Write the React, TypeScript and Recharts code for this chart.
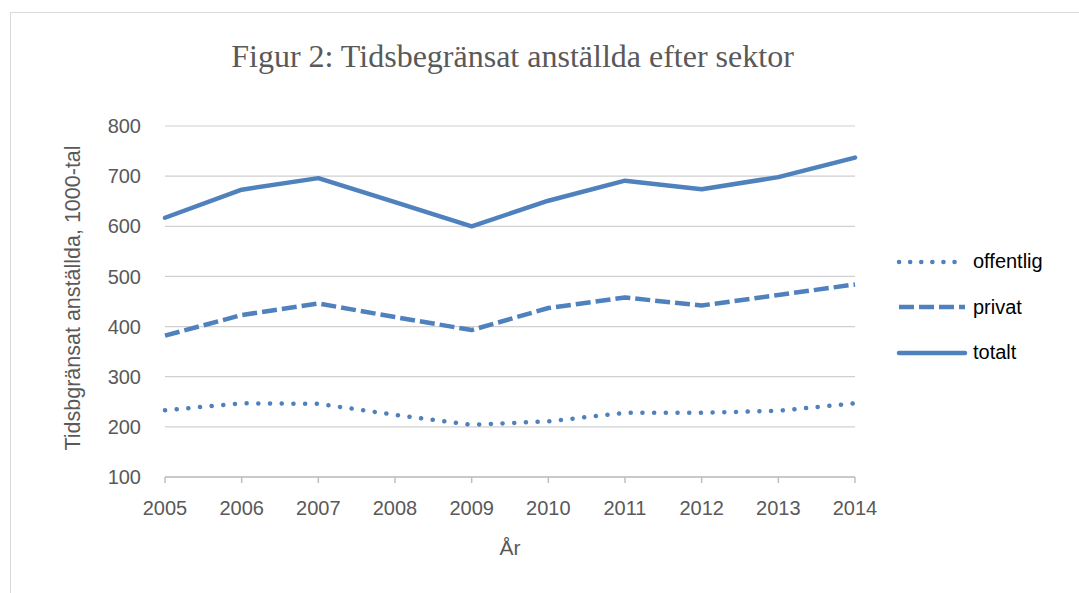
import React from 'react';
import { LineChart, Line, XAxis, YAxis, CartesianGrid } from 'recharts';

const years = ['2005', '2006', '2007', '2008', '2009', '2010', '2011', '2012', '2013', '2014'];
const offentlig = [233, 247, 246, 224, 204, 211, 228, 228, 232, 247];
const privat = [382, 423, 446, 419, 393, 437, 458, 442, 463, 484];
const totalt = [617, 673, 696, 648, 600, 651, 691, 674, 698, 737];
const yTicks = [100, 200, 300, 400, 500, 600, 700, 800];

const data = years.map((y, i) => ({ year: y, offentlig: offentlig[i], privat: privat[i], totalt: totalt[i] }));

const BLUE = '#4F81BD';
const FONT = '"Liberation Sans", Arial, sans-serif';

const series = [
  { key: 'offentlig', dash: '0.1 11.6', cap: 'round' as const },
  { key: 'privat', dash: '15 5', cap: 'butt' as const },
  { key: 'totalt', dash: undefined, cap: 'round' as const },
];

const LegendBox = () => (
  <div style={{ position: 'absolute', left: 893, top: 239, fontFamily: FONT, fontSize: 20, color: '#000' }}>
    {series.map((s) => (
      <div key={s.key} style={{ display: 'flex', alignItems: 'center', height: 45.5 }}>
        <svg width={78} height={10} style={{ marginRight: 2, display: 'block' }}>
          <line x1={6} y1={5} x2={72} y2={5} stroke={BLUE} strokeWidth={4.5}
            strokeDasharray={s.key === 'offentlig' ? '0.1 11' : s.dash} strokeLinecap={s.cap} />
        </svg>
        <span>{s.key}</span>
      </div>
    ))}
  </div>
);

export default function App() {
  return (
    <div style={{ position: 'absolute', left: 0, top: 0, width: 1079, height: 593, background: '#fff', overflow: 'hidden' }}>
      <div style={{ position: 'absolute', left: 10, top: 12, width: 1080, height: 590, border: '1px solid #d9d9d9', boxSizing: 'border-box' }} />
      <div style={{ position: 'absolute', left: 0, top: 38, width: 1025, lineHeight: '36px', textAlign: 'center', fontFamily: '"Liberation Serif", "Times New Roman", serif', fontSize: 32, color: '#595959' }}>
        Figur 2: Tidsbegränsat anställda efter sektor
      </div>
      <LineChart width={1079} height={593} data={data} margin={{ top: 126, right: 224, bottom: 56, left: 65 }} style={{ position: 'absolute', left: 0, top: 0 }}>
        <CartesianGrid vertical={false} stroke="#d0d0d0" strokeWidth={1.2} />
        <XAxis dataKey="year" height={60} axisLine={{ stroke: '#bfbfbf', strokeWidth: 1.5 }} tickLine={{ stroke: '#bfbfbf', strokeWidth: 1.5 }} tickSize={6} tickMargin={18}
          tick={{ fill: '#595959', fontSize: 20, fontFamily: FONT }}
          label={(props: any) => {
            const vb = props.viewBox || { x: 165, width: 690 };
            return <text x={vb.x + vb.width / 2} y={555} textAnchor="middle" fill="#595959" fontSize={21} fontFamily={FONT}>År</text>;
          }} />
        <YAxis domain={[100, 800]} ticks={yTicks} width={100} axisLine={false} tickLine={false} tickSize={0} tickMargin={24}
          tick={{ fill: '#595959', fontSize: 20, fontFamily: FONT }}
          label={() => (
            <text x={73} y={298} transform="rotate(-90, 73, 298)" textAnchor="middle" dominantBaseline="central" fill="#595959" fontSize={21.5} fontFamily={FONT}>
              Tidsbgränsat anställda, 1000-tal
            </text>
          )} />
        {series.map((s) => (
          <Line key={s.key} dataKey={s.key} type="linear" stroke={BLUE} strokeWidth={4.5} strokeDasharray={s.dash}
            strokeLinecap={s.cap} strokeLinejoin="round" dot={false} activeDot={false} isAnimationActive={false} />
        ))}
      </LineChart>
      <LegendBox />
    </div>
  );
}
